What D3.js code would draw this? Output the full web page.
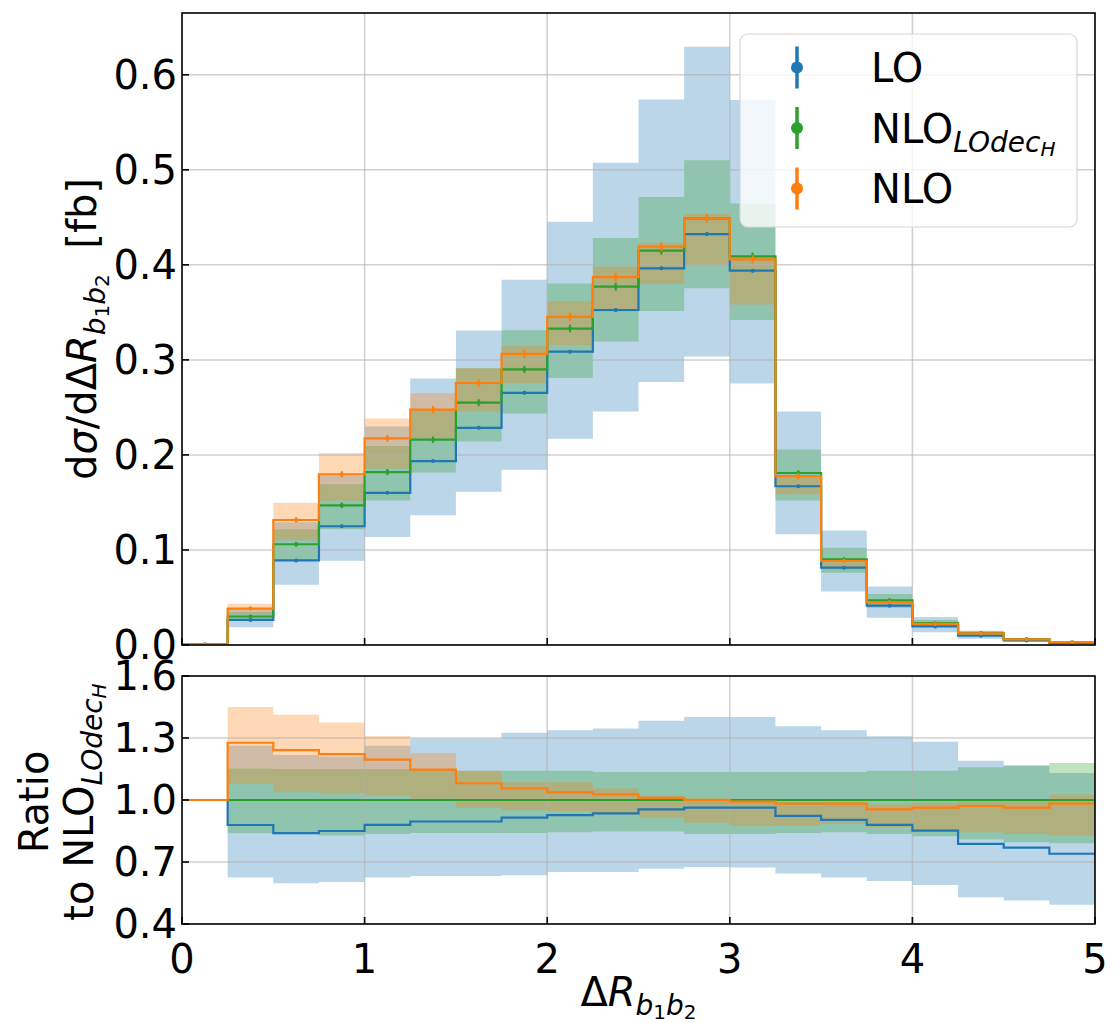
<!DOCTYPE html>
<html>
<head>
<meta charset="utf-8">
<script src="https://cdn.jsdelivr.net/npm/d3@7"></script>
<style>
  body { margin: 0; background: #fff; }
  svg { display: block; font-family: "DejaVu Sans", sans-serif; }
</style>
</head>
<body>
<div id="chart"></div>
<script>
// bin edges in ΔR(b1,b2)
const binEdges = [0, 0.25, 0.5, 0.75, 1, 1.25, 1.5, 1.75, 2, 2.25, 2.5, 2.75, 3, 3.25, 3.5, 3.75, 4, 4.25, 4.5, 4.75, 5];

// NLO_LOdecH central value per bin [fb]
const nloDecXsec = [0.0005, 0.030, 0.106, 0.147, 0.182, 0.216, 0.255, 0.290, 0.333, 0.377, 0.415, 0.449, 0.409, 0.181, 0.090, 0.047, 0.023, 0.0125, 0.0062, 0.003];

// everything below is the ratio to NLO_LOdecH
const loRatio   = [1, 0.879, 0.840, 0.850, 0.880, 0.896, 0.896, 0.915, 0.927, 0.935, 0.955, 0.963, 0.963, 0.923, 0.904, 0.880, 0.852, 0.788, 0.770, 0.740];
const loRatioLo = [1, 0.625, 0.597, 0.603, 0.625, 0.632, 0.632, 0.636, 0.652, 0.652, 0.667, 0.676, 0.673, 0.644, 0.625, 0.608, 0.589, 0.530, 0.514, 0.493];
const loRatioHi = [1, 1.263, 1.218, 1.210, 1.263, 1.298, 1.298, 1.325, 1.337, 1.346, 1.383, 1.402, 1.402, 1.357, 1.338, 1.309, 1.282, 1.190, 1.167, 1.131];

const decRatio   = [1, 1, 1, 1, 1, 1, 1, 1, 1, 1, 1, 1, 1, 1, 1, 1, 1, 1, 1, 1];
const decRatioLo = [1, 0.839, 0.840, 0.828, 0.836, 0.840, 0.840, 0.840, 0.844, 0.847, 0.847, 0.836, 0.836, 0.840, 0.844, 0.836, 0.825, 0.809, 0.796, 0.791];
const decRatioHi = [1, 1.152, 1.150, 1.150, 1.150, 1.150, 1.142, 1.142, 1.142, 1.136, 1.136, 1.136, 1.136, 1.136, 1.136, 1.142, 1.142, 1.158, 1.167, 1.179];

const nloRatio   = [1, 1.277, 1.241, 1.222, 1.195, 1.147, 1.081, 1.056, 1.037, 1.027, 1.010, 1.000, 0.992, 0.982, 0.982, 0.955, 0.963, 0.971, 0.963, 0.982];
const nloRatioLo = [1, 1.078, 1.040, 1.033, 1.020, 1.006, 0.963, 0.950, 0.947, 0.930, 0.915, 0.890, 0.876, 0.876, 0.884, 0.868, 0.855, 0.844, 0.836, 0.828];
const nloRatioHi = [1, 1.450, 1.413, 1.375, 1.310, 1.226, 1.142, 1.086, 1.086, 1.056, 1.020, 1.010, 1.000, 0.987, 0.990, 0.979, 0.987, 0.995, 0.998, 1.027];

// statistical errors [fb]
const statErrLO  = [0.0002, 0.0008, 0.0012, 0.0013, 0.0014, 0.0015, 0.0015, 0.0016, 0.0016, 0.0017, 0.0017, 0.0017, 0.0016, 0.0012, 0.0009, 0.0007, 0.0005, 0.0004, 0.0003, 0.0002];
const statErrDec = [0.0003, 0.0015, 0.0025, 0.0030, 0.0032, 0.0034, 0.0036, 0.0038, 0.0040, 0.0042, 0.0042, 0.0042, 0.0040, 0.0030, 0.0020, 0.0015, 0.0010, 0.0008, 0.0005, 0.0003];
const statErrNLO = [0.0003, 0.0018, 0.0028, 0.0032, 0.0035, 0.0038, 0.0040, 0.0042, 0.0045, 0.0046, 0.0046, 0.0046, 0.0042, 0.0032, 0.0022, 0.0016, 0.0011, 0.0008, 0.0005, 0.0003];

const xTicks = [0, 1, 2, 3, 4, 5];
const yTicksTop = [0.0, 0.1, 0.2, 0.3, 0.4, 0.5, 0.6];
const yTicksRatio = [0.4, 0.7, 1.0, 1.3, 1.6];

const series = [
  { name: 'LO', color: '#1f77b4', ratio: loRatio, lo: loRatioLo, hi: loRatioHi, err: statErrLO },
  { name: 'NLO_dec', color: '#2ca02c', ratio: decRatio, lo: decRatioLo, hi: decRatioHi, err: statErrDec },
  { name: 'NLO', color: '#ff7f0e', ratio: nloRatio, lo: nloRatioLo, hi: nloRatioHi, err: statErrNLO }
];

const W = 1118, H = 1023;
const left = 182, right = 1095;
const top1 = 13, bot1 = 645;
const top2 = 676, bot2 = 924;
const FS = 40;

const svg = d3.select('#chart').append('svg').attr('width', W).attr('height', H);

const x = d3.scaleLinear().domain([0, 5]).range([left, right]);
const yTop = d3.scaleLinear().domain([0, 0.665]).range([bot1, top1]);
const yRat = d3.scaleLinear().domain([0.4, 1.6]).range([bot2, top2]);

const n = nloDecXsec.length;
const stepPts = vals => binEdges.map((e, i) => [e, vals[Math.min(i, n - 1)]]);

// small helper for mathtext-like labels; shift is px below baseline
function addParts(text, parts) {
  let cur = 0;
  parts.forEach(p => {
    const s = p.shift || 0;
    text.append('tspan')
      .text(p.t)
      .attr('font-size', p.size || null)
      .attr('font-style', p.it ? 'italic' : null)
      .attr('dy', s - cur);
    cur = s;
  });
}

function panel(name, y, top, bot, yTicks, tickFmt, valueOf, withErr) {
  const g = svg.append('g');
  g.append('clipPath').attr('id', 'clip-' + name)
    .append('rect').attr('x', left).attr('y', top).attr('width', right - left).attr('height', bot - top);
  const body = g.append('g').attr('clip-path', `url(#clip-${name})`);

  // bands
  series.forEach(s => {
    const lo = s.lo.map((v, i) => valueOf(v, i));
    const hi = s.hi.map((v, i) => valueOf(v, i));
    const area = d3.area()
      .x(d => x(d[0]))
      .y0(d => y(d[1]))
      .y1(d => y(d[2]))
      .curve(d3.curveStepAfter);
    const pts = binEdges.map((e, i) => [e, lo[Math.min(i, n - 1)], hi[Math.min(i, n - 1)]]);
    body.append('path').attr('d', area(pts)).attr('fill', s.color).attr('fill-opacity', 0.3);
  });

  // grid
  body.selectAll('.gx').data(xTicks).join('line')
    .attr('x1', d => x(d)).attr('x2', d => x(d)).attr('y1', top).attr('y2', bot)
    .attr('stroke', '#b0b0b0').attr('stroke-opacity', 0.6).attr('stroke-width', 1.5);
  body.selectAll('.gy').data(yTicks).join('line')
    .attr('x1', left).attr('x2', right).attr('y1', d => y(d)).attr('y2', d => y(d))
    .attr('stroke', '#b0b0b0').attr('stroke-opacity', 0.6).attr('stroke-width', 1.5);

  // step lines
  const line = d3.line().x(d => x(d[0])).y(d => y(d[1])).curve(d3.curveStepAfter);
  series.forEach(s => {
    const vals = s.ratio.map((v, i) => valueOf(v, i));
    body.append('path').attr('d', line(stepPts(vals)))
      .attr('fill', 'none').attr('stroke', s.color).attr('stroke-width', 2.2);
  });

  // error bars at bin centres
  if (withErr) {
    series.forEach(s => {
      const pts = s.ratio.map((v, i) => ({
        c: (binEdges[i] + binEdges[i + 1]) / 2,
        v: valueOf(v, i),
        e: s.err[i]
      }));
      body.selectAll(null).data(pts).join('line')
        .attr('x1', d => x(d.c)).attr('x2', d => x(d.c))
        .attr('y1', d => y(d.v - d.e)).attr('y2', d => y(d.v + d.e))
        .attr('stroke', s.color).attr('stroke-width', 2);
      body.selectAll(null).data(pts).join('circle')
        .attr('cx', d => x(d.c)).attr('cy', d => y(d.v)).attr('r', 2)
        .attr('fill', s.color);
    });
  }

  // ticks (inward)
  g.append('g').selectAll('line').data(xTicks).join('line')
    .attr('x1', d => x(d)).attr('x2', d => x(d)).attr('y1', bot).attr('y2', bot - 7)
    .attr('stroke', '#000').attr('stroke-width', 1.6);
  g.append('g').selectAll('line').data(yTicks).join('line')
    .attr('x1', left).attr('x2', left + 7).attr('y1', d => y(d)).attr('y2', d => y(d))
    .attr('stroke', '#000').attr('stroke-width', 1.6);

  g.append('g').selectAll('text').data(yTicks).join('text')
    .attr('x', left - 5).attr('y', d => y(d)).attr('dy', '0.36em')
    .attr('text-anchor', 'end').attr('font-size', FS).attr('fill', '#000')
    .text(tickFmt);

  g.append('rect').attr('x', left).attr('y', top).attr('width', right - left).attr('height', bot - top)
    .attr('fill', 'none').attr('stroke', '#000').attr('stroke-width', 1.6);
  return g;
}

panel('top', yTop, top1, bot1, yTicksTop, d => d.toFixed(1), (v, i) => v * nloDecXsec[i], true);
panel('ratio', yRat, top2, bot2, yTicksRatio, d => d.toFixed(1), v => v, false);

// x tick labels
svg.append('g').selectAll('text').data(xTicks).join('text')
  .attr('x', d => x(d)).attr('y', 973)
  .attr('text-anchor', 'middle').attr('font-size', FS).text(d => d);

// x label
const xl = svg.append('text').attr('x', (left + right) / 2).attr('y', 1006)
  .attr('text-anchor', 'middle').attr('font-size', FS);
addParts(xl, [
  { t: 'Δ' }, { t: 'R', it: true },
  { t: 'b', it: true, size: 28, shift: 9 }, { t: '1', size: 20, shift: 13 },
  { t: 'b', it: true, size: 28, shift: 9 }, { t: '2', size: 20, shift: 13 }
]);

// y label, top panel
const yl = svg.append('text').attr('transform', `translate(96,${(top1 + bot1) / 2}) rotate(-90)`)
  .attr('text-anchor', 'middle').attr('font-size', FS);
addParts(yl, [
  { t: 'd' }, { t: 'σ', it: true }, { t: '/dΔ' }, { t: 'R', it: true },
  { t: 'b', it: true, size: 28, shift: 9 }, { t: '1', size: 20, shift: 13 },
  { t: 'b', it: true, size: 28, shift: 9 }, { t: '2', size: 20, shift: 13 },
  { t: '\u00a0\u00a0[fb]', shift: 0 }
]);

// y label, ratio panel
const rc = (top2 + bot2) / 2 + 2;
svg.append('text').attr('transform', `translate(48,${rc}) rotate(-90)`)
  .attr('text-anchor', 'middle').attr('font-size', FS).text('Ratio');
const rl = svg.append('text').attr('transform', `translate(93,${rc}) rotate(-90)`)
  .attr('text-anchor', 'middle').attr('font-size', FS);
addParts(rl, [
  { t: 'to NLO' },
  { t: 'LOdec', it: true, size: 28, shift: 9 }, { t: 'H', it: true, size: 20, shift: 13 }
]);

// legend
const lg = svg.append('g');
lg.append('rect').attr('x', 740).attr('y', 34).attr('width', 337).attr('height', 193).attr('rx', 8)
  .attr('fill', '#fff').attr('fill-opacity', 0.8).attr('stroke', '#d6d6d6').attr('stroke-width', 1.2);
const legendRows = [
  { s: series[0], parts: [{ t: 'LO' }] },
  { s: series[1], parts: [{ t: 'NLO' }, { t: 'LOdec', it: true, size: 28, shift: 9 }, { t: 'H', it: true, size: 20, shift: 13 }] },
  { s: series[2], parts: [{ t: 'NLO' }] }
];
legendRows.forEach((r, k) => {
  const base = 82 + k * 60.5;
  const cy = base - 14.5;
  lg.append('line').attr('x1', 797).attr('x2', 797).attr('y1', cy - 21).attr('y2', cy + 21)
    .attr('stroke', r.s.color).attr('stroke-width', 3.5);
  lg.append('circle').attr('cx', 797).attr('cy', cy).attr('r', 6).attr('fill', r.s.color);
  const t = lg.append('text').attr('x', 871).attr('y', base).attr('font-size', FS);
  addParts(t, r.parts);
});
</script>
</body>
</html>
